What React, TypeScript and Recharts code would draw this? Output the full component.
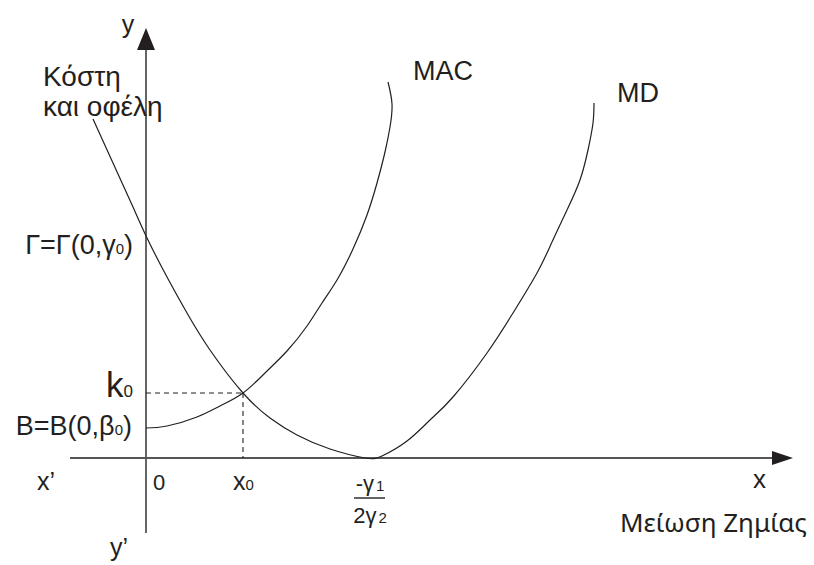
import React from 'react';
import { LineChart, Line, XAxis, YAxis, ReferenceLine, ReferenceDot } from 'recharts';

// MAC curve (marginal abatement cost)
const macX = [0, 2.1, 5.1, 7.4, 9.7, 11.9, 14.1, 16.1, 17.6, 19.1, 20.7, 22.1, 23.1, 23.9, 24.4, 24.6, 24.2];
const macY = [3.0, 3.2, 4.1, 5.2, 6.5, 8.5, 10.7, 13.2, 15.5, 17.8, 20.9, 24.3, 27.5, 30.6, 33.1, 35.4, 37.6];

// MD curve (marginal damage)
const mdX = [-5.3, -3.3, -1.3, 0.2, 2.1, 4.1, 6.4, 9.7, 12.4, 15.1, 18.4, 21.9, 23.6, 26.1, 28.4, 30.7, 34.1, 36.7, 39.1, 40.6, 42.1, 43.4, 44.2, 44.7, 44.8];
const mdY = [33.9, 29.5, 25.1, 21.8, 18.1, 14.5, 10.8, 6.5, 4.0, 2.3, 0.9, 0.0, 0.2, 1.7, 3.8, 6.1, 10.5, 14.5, 18.5, 21.6, 24.8, 27.8, 30.8, 33.5, 35.5];

// key values
const x0 = 9.7;
const k0 = 6.5;
const mdMin = 22.4;

const X_DOMAIN: [number, number] = [-14.6, 66.8];
const Y_DOMAIN: [number, number] = [-10.7, 45.8];

const INK = '#231f20';
const AXIS = '#555555';
const FONT = '"Liberation Sans", Arial, sans-serif';

const macData = macX.map((x, i) => ({ x, y: macY[i] }));
const mdData = mdX.map((x, i) => ({ x, y: mdY[i] }));

type Lbl = {
  x: number;
  y: number;
  text: string;
  sub?: string;
  tail?: string;
  size?: number;
  subSize?: number;
  anchor?: 'start' | 'middle' | 'end';
  family?: string;
};

const LABELS: Lbl[] = [
  { x: -1.8, y: 42.5, text: 'y', size: 25, anchor: 'middle' },
  { x: -10.3, y: 37.2, text: 'Κόστη', size: 28 },
  { x: -10.3, y: 34.2, text: 'και οφέλη', size: 28 },
  { x: 26.7, y: 37.8, text: 'MAC', size: 27 },
  { x: 47.1, y: 35.6, text: 'MD', size: 27 },
  { x: -1.3, y: 20.4, text: 'Γ=Γ(0,γ', sub: '0', tail: ')', size: 27, subSize: 15, anchor: 'end' },
  { x: -1.3, y: 6.1, text: 'k', sub: '0', size: 35, subSize: 17, anchor: 'end' },
  { x: -1.4, y: 2.3, text: 'B=B(0,β', sub: '0', tail: ')', size: 27, subSize: 15, anchor: 'end' },
  { x: -10.9, y: -3.2, text: 'x’', size: 25 },
  { x: 0.7, y: -3.2, text: '0', size: 22 },
  { x: 8.7, y: -3.2, text: 'x', sub: '0', size: 25, subSize: 15 },
  { x: mdMin, y: -3.3, text: '-γ', sub: '1', size: 22, subSize: 15, anchor: 'middle' },
  { x: mdMin, y: -6.5, text: '2γ', sub: '2', size: 22, subSize: 15, anchor: 'middle' },
  { x: -3.6, y: -9.8, text: 'y’', size: 25 },
  { x: 60.7, y: -3.0, text: 'x', size: 26 },
  { x: 47.4, y: -7.4, text: 'Μείωση Ζημίας', size: 26, family: '"Noto Sans", "Open Sans", sans-serif' },
];

const textShape = (l: Lbl) => (props: any) => (
  <text
    x={props.cx}
    y={props.cy}
    fill={INK}
    fontFamily={l.family || FONT}
    fontSize={l.size}
    textAnchor={l.anchor || 'start'}
  >
    {l.text}
    {l.sub && (
      <tspan fontSize={l.subSize} dx={l.sub === '1' || l.sub === '2' ? 2 : 0}>
        {l.sub}
      </tspan>
    )}
    {l.tail && <tspan>{l.tail}</tspan>}
  </text>
);

const yArrow = (props: any) => {
  const { cx, cy } = props;
  return <polygon points={`${cx},${cy} ${cx - 9},${cy + 22} ${cx + 9},${cy + 22}`} fill={INK} />;
};

const xArrow = (props: any) => {
  const { cx, cy } = props;
  return <polygon points={`${cx},${cy} ${cx - 21},${cy - 7} ${cx - 21},${cy + 7}`} fill={INK} />;
};

export default function App() {
  return (
    <div style={{ position: 'absolute', left: 0, top: 0, background: '#fff' }}>
      <LineChart width={814} height={565} margin={{ top: 0, right: 0, bottom: 0, left: 0 }}>
        <XAxis type="number" dataKey="x" domain={X_DOMAIN} allowDataOverflow hide />
        <YAxis type="number" dataKey="y" domain={Y_DOMAIN} allowDataOverflow hide />

        {/* axes */}
        <ReferenceLine segment={[{ x: -7.6, y: 0 }, { x: 63.0, y: 0 }]} stroke={AXIS} strokeWidth={1.8} />
        <ReferenceLine segment={[{ x: 0, y: -7.5 }, { x: 0, y: 41.0 }]} stroke={AXIS} strokeWidth={1.8} />
        <ReferenceDot x={0} y={43.0} shape={yArrow} />
        <ReferenceDot x={64.7} y={0} shape={xArrow} />

        {/* dashed guides to the intersection */}
        <ReferenceLine segment={[{ x: 0, y: k0 }, { x: x0, y: k0 }]} stroke={INK} strokeWidth={1.1} strokeDasharray="5 4" />
        <ReferenceLine segment={[{ x: x0, y: k0 }, { x: x0, y: 0 }]} stroke={INK} strokeWidth={1.1} strokeDasharray="5 4" />

        {/* fraction bar */}
        <ReferenceLine segment={[{ x: mdMin - 1.6, y: -4.0 }, { x: mdMin + 1.5, y: -4.0 }]} stroke={INK} strokeWidth={1.4} />

        <Line
          data={macData}
          dataKey="y"
          type="natural"
          stroke={INK}
          strokeWidth={1.2}
          dot={false}
          activeDot={false}
          isAnimationActive={false}
        />
        <Line
          data={mdData}
          dataKey="y"
          type="natural"
          stroke={INK}
          strokeWidth={1.2}
          dot={false}
          activeDot={false}
          isAnimationActive={false}
        />

        {LABELS.map((l, i) => (
          <ReferenceDot key={i} x={l.x} y={l.y} shape={textShape(l)} />
        ))}
      </LineChart>
    </div>
  );
}
